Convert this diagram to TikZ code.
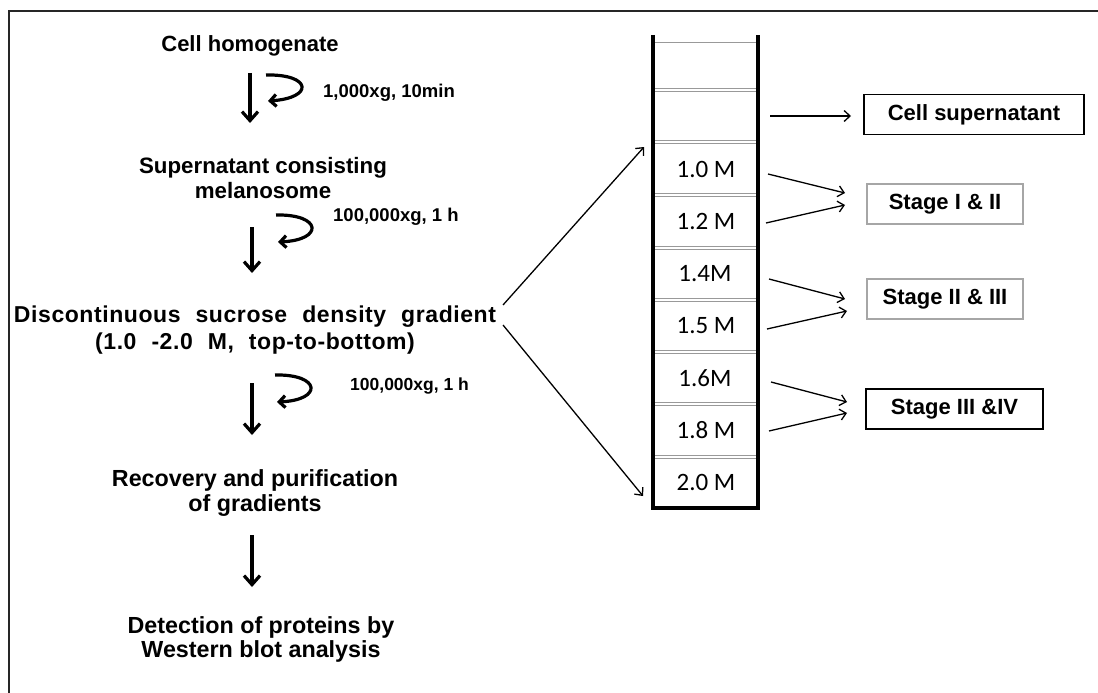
\documentclass[tikz,border=0pt]{standalone}
\usepackage{fontspec}
\setmainfont{Liberation Sans}
\newfontfamily\calfont{Carlito}
\newfontfamily\spacedbold[LetterSpace=2.5]{Liberation Sans Bold}
\usetikzlibrary{arrows.meta}
\begin{document}
\begin{tikzpicture}[x=1pt,y=-1pt,
  lbl/.style={font=\bfseries\fontsize{22}{25}\selectfont, align=center, inner sep=0pt, anchor=north},
  cond/.style={font=\bfseries\fontsize{17.5}{20}\selectfont, anchor=base west, inner sep=0pt},
  conc/.style={font=\calfont\fontsize{25}{28}\selectfont, inner sep=0pt},
  stagebox/.style={draw, line width=1.1pt, minimum height=40pt, inner sep=0pt, font=\bfseries\fontsize{22}{25}\selectfont},
  bigarrow/.style={line width=3.2pt, -{Straight Barb[length=9pt,width=16pt]}},
  looparrow/.style={line width=3.2pt, -{Straight Barb[length=6pt,width=12pt]}},
  thinarrow/.style={line width=1.3pt, -{Straight Barb[length=6pt,width=11pt]}},
  divline/.style={draw=black!40, line width=0.9pt},
  wall/.style={line width=3.5pt, line cap=butt, line join=miter}
]
\useasboundingbox (0,0) rectangle (1098,693);
% frame
\draw[line width=1.8pt, black!85] (9,693) -- (9,11) -- (1098,11);

% left flow text
\node[lbl] (s1) at (250,35) {Cell homogenate};
\node[lbl, font=\bfseries\fontsize{22.3}{25}\selectfont] (s2) at (263,157) {Supernatant consisting\\melanosome};
\node[lbl, font=\spacedbold\fontsize{23}{27}\selectfont] (s3) at (255,306)
  {Discontinuous\hspace{15pt}sucrose\hspace{15pt}density\hspace{15pt}gradient\\(1.0\hspace{15pt}-2.0\hspace{15pt}M,\hspace{15pt}top-to-bottom)};
\node[lbl, font=\bfseries\fontsize{23.3}{25}\selectfont] (s4) at (255,469) {Recovery and purification\\of gradients};
\node[lbl, font=\bfseries\fontsize{23.3}{24.5}\selectfont] (s5) at (261,616) {Detection of proteins by\\Western blot analysis};

\node[cond, font=\bfseries\fontsize{18.5}{20}\selectfont] (c1) at (323,97) {1,000xg, 10min};
\node[cond, font=\bfseries\fontsize{18.5}{20}\selectfont] (c2) at (333,221) {100,000xg, 1 h};
\node[cond] (c3) at (350,390) {100,000xg, 1 h};

% down arrows
\coordinate (d1a) at (250,73);  \coordinate (d1b) at (250,123);
\coordinate (d2a) at (252,227); \coordinate (d2b) at (252,273);
\coordinate (d3a) at (252,383); \coordinate (d3b) at (252,435);
\coordinate (d4a) at (252,535); \coordinate (d4b) at (252,587);
\draw[bigarrow] (d1a) -- (d1b);
\draw[bigarrow] (d2a) -- (d2b);
\draw[bigarrow] (d3a) -- (d3b);
\draw[bigarrow] (d4a) -- (d4b);

% loop arrows
\coordinate (r1a) at (266,75);  \coordinate (r1b) at (268,101);
\coordinate (r2a) at (276,215); \coordinate (r2b) at (278,242);
\coordinate (r3a) at (275,375); \coordinate (r3b) at (277,402);
\draw[looparrow] (r1a) .. controls (312,74) and (314,98) .. (r1b);
\draw[looparrow] (r2a) .. controls (322,214) and (324,240) .. (r2b);
\draw[looparrow] (r3a) .. controls (321,374) and (323,400) .. (r3b);

% tube layers
\draw[divline] (654.5,42) -- (756.5,42);
\foreach \yy in {90,142,195,248,300,352,404,457}{
  \draw[divline] (654.5,\yy-1.3) -- (756.5,\yy-1.3);
  \draw[divline] (654.5,\yy+1.3) -- (756.5,\yy+1.3);
}
\draw[wall] (653,35) -- (653,508) -- (758,508) -- (758,35);

\node[conc] (m10) at (706,169) {1.0 M};
\node[conc] (m12) at (706,221) {1.2 M};
\node[conc] (m14) at (705,274) {1.4M};
\node[conc] (m15) at (706,326) {1.5 M};
\node[conc] (m16) at (705,378) {1.6M};
\node[conc] (m18) at (706,430) {1.8 M};
\node[conc] (m20) at (706,482) {2.0 M};

% result boxes
\node[stagebox, minimum width=220pt] (cs) at (974,114.5) {Cell supernatant};
\node[stagebox, draw=gray!70, minimum width=156pt] (st1) at (945,204) {Stage I \& II};
\node[stagebox, draw=gray!70, minimum width=156pt] (st2) at (945,299) {Stage II \& III};
\node[stagebox, minimum width=177pt] (st3) at (954.5,409) {Stage III \&IV};

% arrows from gradient node to tube
\coordinate (g1) at (503,305); \coordinate (g1t) at (644,147);
\coordinate (g2) at (503,325); \coordinate (g2t) at (643,496);
\draw[thinarrow] (g1) -- (g1t);
\draw[thinarrow] (g2) -- (g2t);

% arrows from tube to boxes
\coordinate (t0) at (770,116);
\coordinate (t0e) at (851,116);
\draw[thinarrow] (t0) -- (t0e);
\draw[thinarrow] (768,174) -- (845,193);
\draw[thinarrow] (766,223) -- (845,205);
\draw[thinarrow] (769,279) -- (845,299);
\draw[thinarrow] (767,329) -- (847,311);
\draw[thinarrow] (771,382) -- (847,402);
\draw[thinarrow] (769,431) -- (847,413);
\end{tikzpicture}
\end{document}
